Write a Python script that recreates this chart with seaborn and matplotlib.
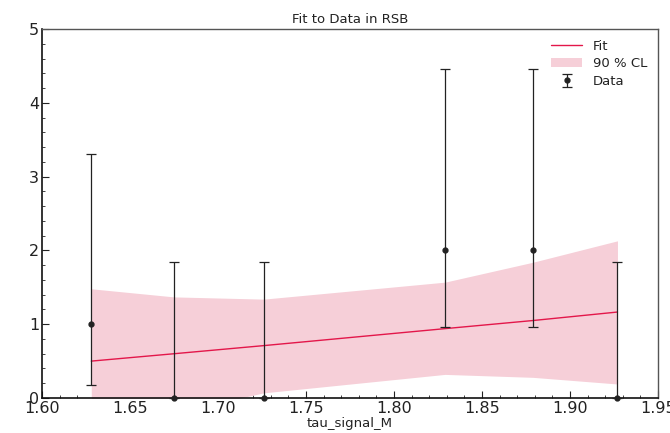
import numpy as np
import matplotlib
matplotlib.use("Agg")
import matplotlib.pyplot as plt
import seaborn as sns
import pandas as pd
from matplotlib.ticker import MultipleLocator

# Data points
data_x = [1.628, 1.675, 1.726, 1.829, 1.879, 1.927]
data_y = [1, 0, 0, 2, 2, 0]
err_lo = [0.17, 0.0, 0.0, 0.96, 0.96, 0.0]
err_hi = [3.30, 1.84, 1.84, 4.46, 4.46, 1.84]

# Fit and band
fit_y = [0.50, 0.60, 0.71, 0.94, 1.05, 1.165]
band_lo = [-0.30, -0.20, 0.07, 0.32, 0.28, 0.19]
band_hi = [1.48, 1.37, 1.34, 1.57, 1.84, 2.13]

sns.set_style("white")
plt.rcParams['font.family'] = ['DejaVu Sans']

fig = plt.figure(figsize=(6.7, 4.33), dpi=100)
ax = fig.add_axes([0.0627, 0.0808, 0.9193, 0.8522])

ax.fill_between(data_x, band_lo, band_hi, color="#f6cfd8", lw=0, label="90 % CL", zorder=1)
df_fit = pd.DataFrame({"x": data_x, "y": fit_y})
sns.lineplot(data=df_fit, x="x", y="y", ax=ax, color="#e3174a", lw=1.0, label="Fit", zorder=2)

yerr = np.array([[y - l for y, l in zip(data_y, err_lo)], [h - y for y, h in zip(data_y, err_hi)]])
ax.errorbar(data_x, data_y, yerr=yerr, fmt="o", color="#222222", ms=3.5, capsize=3.5,
            elinewidth=0.9, capthick=0.9, label="Data", zorder=3, clip_on=False)

ax.set_xlim(1.60, 1.95)
ax.set_ylim(0, 5)
ax.xaxis.set_major_locator(MultipleLocator(0.05))
ax.xaxis.set_minor_locator(MultipleLocator(0.01))
ax.yaxis.set_major_locator(MultipleLocator(1))
ax.yaxis.set_minor_locator(MultipleLocator(0.2))
ax.xaxis.set_major_formatter(matplotlib.ticker.FormatStrFormatter("%.2f"))
ax.tick_params(which="major", direction="in", length=5, width=0.8, labelsize=11.5,
               colors="#222222", bottom=True, left=True, top=False, right=False, pad=2)
ax.tick_params(which="minor", direction="in", length=2.5, width=0.6,
               colors="#222222", bottom=True, left=True, top=False, right=False)

for s in ["left", "bottom"]:
    ax.spines[s].set_color("#111111")
    ax.spines[s].set_linewidth(1.2)
for s in ["top", "right"]:
    ax.spines[s].set_color("#555555")
    ax.spines[s].set_linewidth(1.0)

ax.set_title("Fit to Data in RSB", fontsize=9.5, color="#222222", pad=4)
ax.set_xlabel("tau_signal_M", fontsize=9.5, color="#222222", labelpad=1)
ax.set_ylabel("")

handles, labels = ax.get_legend_handles_labels()
order = [labels.index("Fit"), labels.index("90 % CL"), labels.index("Data")]
leg = ax.legend([handles[i] for i in order], [labels[i] for i in order], loc="upper right",
                frameon=False, fontsize=9.5, handlelength=2.4, borderaxespad=0.4,
                labelspacing=0.35)
for t in leg.get_texts():
    t.set_color("#222222")

fig.savefig("out.png", dpi=100)
